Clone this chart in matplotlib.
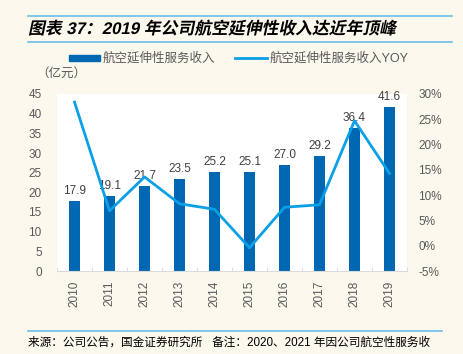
import matplotlib
matplotlib.use("Agg")
import matplotlib.pyplot as plt
from matplotlib.patches import Rectangle, PathPatch
from matplotlib.lines import Line2D
from matplotlib.textpath import TextPath
from matplotlib.font_manager import FontProperties
from matplotlib.transforms import Affine2D
import numpy as np

plt.rcParams['font.family'] = ['Liberation Sans', 'Noto Sans CJK SC', 'DejaVu Sans']

years = ['2010', '2011', '2012', '2013', '2014', '2015', '2016', '2017', '2018', '2019']
revenue = [17.9, 19.1, 21.7, 23.5, 25.2, 25.1, 27.0, 29.2, 36.4, 41.6]
yoy = [28.4, 6.9, 13.6, 8.3, 7.2, -0.4, 7.6, 8.1, 24.7, 14.3]
left_ticks = [0, 5, 10, 15, 20, 25, 30, 35, 40, 45]
right_ticks = [-5, 0, 5, 10, 15, 20, 25, 30]

title = '图表 37：2019 年公司航空延伸性收入达近年顶峰'
legend_bar = '航空延伸性服务收入'
legend_line = '航空延伸性服务收入YOY'
unit = '（亿元）'
footer = '来源：公司公告，国金证券研究所   备注：2020、2021 年因公司航空性服务收'

W, H = 463, 354
DPI = 100
bg = '#FCF8EE'
bar_color = '#0068B3'
line_color = '#0AA0E6'
rule_color = '#6CBDE8'
tick_color = '#595959'

fig = plt.figure(figsize=(W / DPI, H / DPI), dpi=DPI, facecolor=bg)

def fx(px):
    return px / W

def fy(py):
    return 1 - py / H

ax = fig.add_axes([fx(57), fy(271), fx(407) - fx(57), fy(94) - fy(271)])
ax.set_facecolor('white')
x = np.arange(len(years))
ax.bar(x, revenue, width=0.34, color=bar_color, zorder=2)
for xi, v in zip(x, revenue):
    ax.text(xi, v + 1.0, f'{v:.1f}', ha='center', va='bottom', fontsize=8.5, color='#404040', zorder=5)
ax.set_xlim(-0.5, len(years) - 0.5)
ax.set_ylim(0, 45)
ax.set_yticks(left_ticks)
ax.set_xticks(x)
ax.set_xticklabels(years, rotation=90)
ax.set_xticks(np.arange(-0.5, len(years), 1.0), minor=True)
ax.tick_params(axis='x', which='major', length=0, pad=7, labelsize=8.5, labelcolor=tick_color)
ax.tick_params(axis='x', which='minor', length=3, color='#D9D9D9', direction='in')
ax.tick_params(axis='y', length=0, pad=11, labelsize=8.5, labelcolor=tick_color)
for s in ['left', 'right', 'top']:
    ax.spines[s].set_visible(False)
ax.spines['bottom'].set_color('#D9D9D9')

ax2 = ax.twinx()
ax2.plot(x, yoy, color=line_color, lw=2.0, zorder=3)
ax2.set_ylim(-5, 30)
ax2.set_yticks(right_ticks)
ax2.set_yticklabels([f'{t}%' for t in right_ticks])
ax2.tick_params(axis='y', length=0, pad=8, labelsize=8.5, labelcolor=tick_color)
for s in ['left', 'right', 'top', 'bottom']:
    ax2.spines[s].set_visible(False)

# title and rules
fig.add_artist(Line2D([fx(28), fx(452)], [fy(16), fy(16)], color=rule_color, lw=1.2))
fig.add_artist(Line2D([fx(28), fx(452)], [fy(42), fy(42)], color=rule_color, lw=1.2))

fp = FontProperties(family=['Liberation Sans', 'Noto Sans CJK SC'], weight='bold')
tp = TextPath((0, 0), title, size=12.1, prop=fp)
scale = DPI / 72.0
trans = Affine2D().scale(scale).skew_deg(12, 0).translate(28, H - 34)
patch = PathPatch(tp, facecolor='black', edgecolor='none')
patch.set_transform(trans)
fig.add_artist(patch)

# legend
fig.add_artist(Rectangle((fx(69), fy(61)), fx(100) - fx(69), fy(55) - fy(61),
                         color=bar_color, transform=fig.transFigure))
fig.text(fx(103), fy(58), legend_bar, fontsize=9, va='center', ha='left', color=tick_color)
fig.add_artist(Line2D([fx(235), fx(267)], [fy(58), fy(58)], color=line_color, lw=2.0))
fig.text(fx(270), fy(58), legend_line, fontsize=9, va='center', ha='left', color=tick_color)
fig.text(fx(36), fy(74), unit, fontsize=9, va='center', ha='left', color=tick_color)

# footer
fig.add_artist(Line2D([fx(28), fx(442)], [fy(331), fy(331)], color=rule_color, lw=1.2))
fig.text(fx(28), fy(343), footer, fontsize=8.4, va='center', ha='left', color='black')

fig.savefig('out.png', dpi=DPI, facecolor=bg)
